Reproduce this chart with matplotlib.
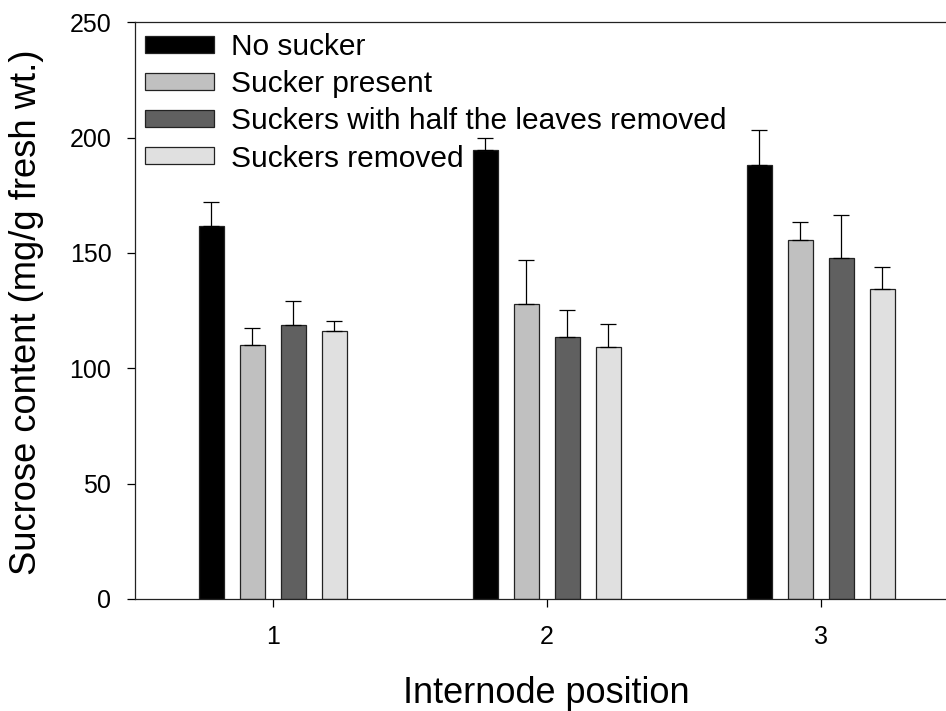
import matplotlib
matplotlib.use("Agg")
import matplotlib.pyplot as plt
import numpy as np

plt.rcParams['font.family'] = ['Liberation Sans', 'DejaVu Sans']

positions = [1, 2, 3]
series_names = ["No sucker", "Sucker present",
                "Suckers with half the leaves removed", "Suckers removed"]
no_sucker = [161.9, 194.8, 188.1]
no_sucker_err = [10.1, 5.2, 15.1]
sucker_present = [110.1, 127.8, 155.5]
sucker_present_err = [7.2, 19.3, 8.1]
half_leaves = [118.7, 113.6, 147.7]
half_leaves_err = [10.6, 11.7, 18.7]
suckers_removed = [116.2, 109.3, 134.3]
suckers_removed_err = [4.4, 9.7, 9.5]
colors = ["#000000", "#c0c0c0", "#606060", "#e0e0e0"]

values = [no_sucker, sucker_present, half_leaves, suckers_removed]
errors = [no_sucker_err, sucker_present_err, half_leaves_err, suckers_removed_err]

fig = plt.figure(figsize=(9.46, 7.11), dpi=100)
ax = fig.add_axes([135/946, 1-599/711, 1-135/946, (599-22.3)/711])

offsets = [-0.225, -0.0745, 0.0745, 0.225]
width = 0.092
x = np.array(positions, dtype=float)
for vals, errs, col, name, off in zip(values, errors, colors, series_names, offsets):
    ax.bar(x + off, vals, width=width, color=col, edgecolor="#222222",
           linewidth=0.9, label=name, zorder=2)
    ax.errorbar(x + off, vals, yerr=[np.zeros(len(errs)), errs], fmt='none',
                ecolor='black', elinewidth=0.9, capsize=6, capthick=0.9, zorder=3)

ax.set_xlim(0.497, 3.457)
ax.set_ylim(0, 250)
ax.set_yticks([0, 50, 100, 150, 200, 250])
ax.set_xticks(positions)
ax.set_xticklabels([str(p) for p in positions])
ax.tick_params(axis='y', direction='out', length=6, width=0.9, pad=11, labelsize=18)
ax.tick_params(axis='x', direction='out', length=6, width=0.9, pad=13, labelsize=18)
for s in ['left', 'bottom', 'top']:
    ax.spines[s].set_linewidth(0.9)
    ax.spines[s].set_color('#222222')
ax.spines['right'].set_visible(False)

fig.text(27/946, 1-312/711, "Sucrose content (mg/g fresh wt.)", rotation=90,
         ha='center', va='center', fontsize=26.2)
fig.text(546.7/946, 1-703/711, "Internode position", ha='center', va='baseline',
         fontsize=26)

leg = ax.legend(loc='upper left', bbox_to_anchor=(0.0, 1.0), frameon=False,
                fontsize=21.5, handlelength=2.3, handleheight=0.5,
                handletextpad=0.55, labelspacing=0.31, borderaxespad=0.2,
                borderpad=0.15)

fig.savefig("out.png", dpi=100)
